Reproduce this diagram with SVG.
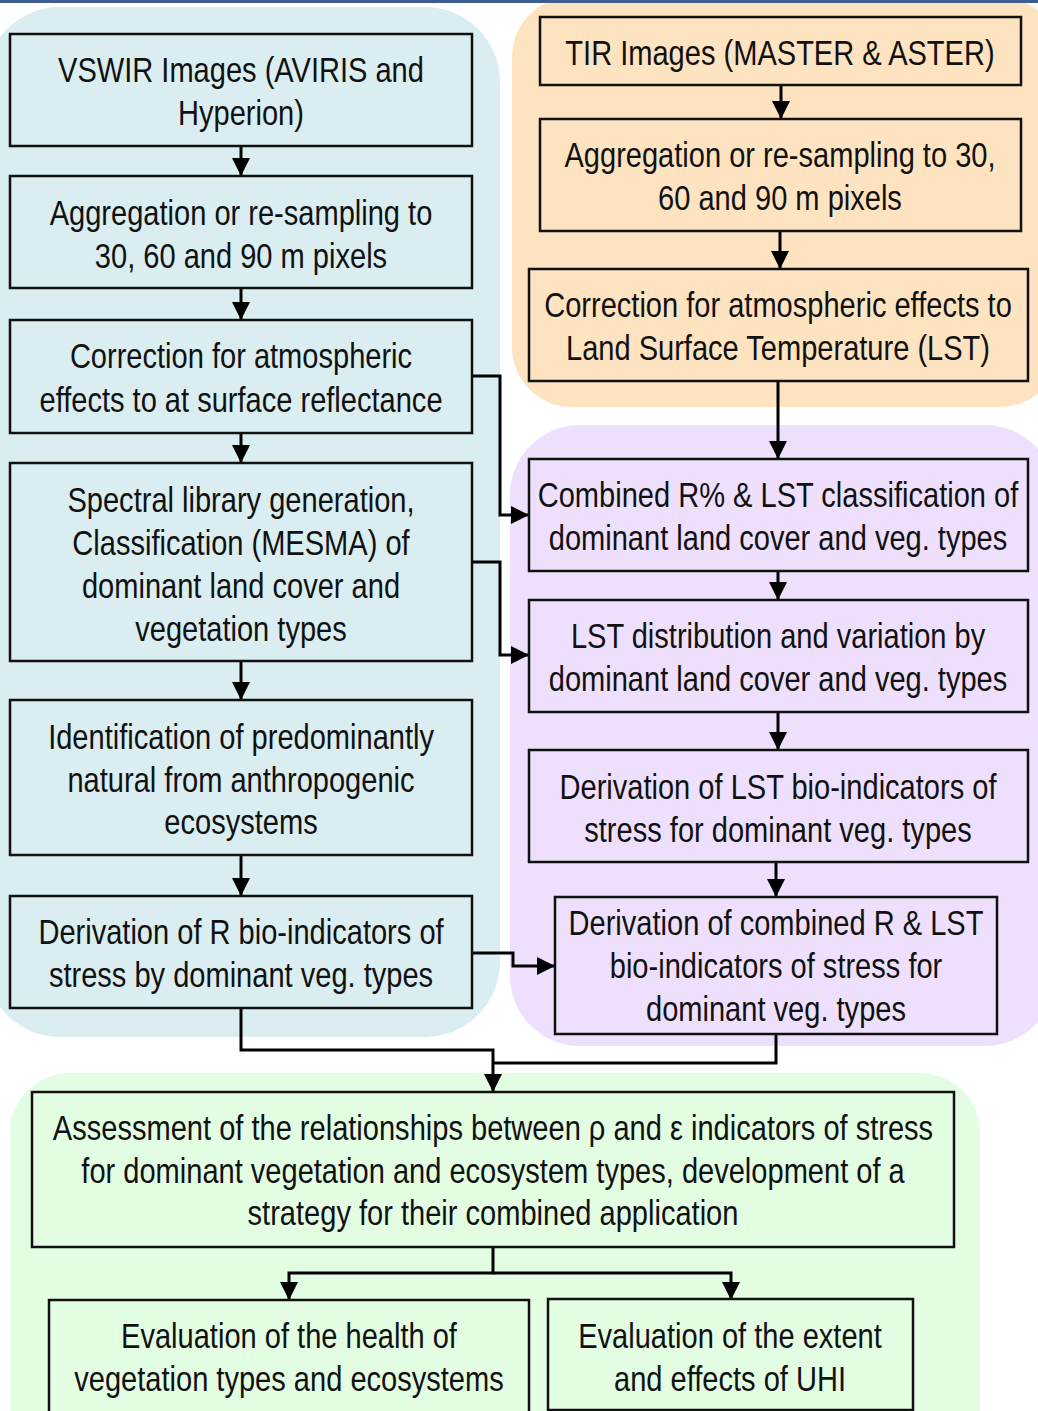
<svg xmlns="http://www.w3.org/2000/svg" width="1038" height="1411" viewBox="0 0 1038 1411">
<style>
text{font-family:"Liberation Sans",Arial,sans-serif;font-size:35px;fill:#111;text-anchor:middle;transform-box:fill-box;transform-origin:center;transform:scaleX(0.83)}
.box{stroke:#111;stroke-width:2.5}
.b{fill:#daedf0}.o{fill:#fee3c1}.p{fill:#eee0fc}.g{fill:#e3fde3}
.c{fill:none;stroke:#000;stroke-width:3}
</style>
<defs>
<marker id="ah" markerUnits="userSpaceOnUse" markerWidth="18" markerHeight="18" refX="18" refY="9" orient="auto">
<path d="M0,0 L18,9 L0,18 z" fill="#000"/>
</marker>
</defs>
<rect width="1038" height="1411" fill="#fff"/>
<g id="panels">
<rect class="b" x="-15" y="7" width="515" height="1030" rx="75"/>
<rect class="o" x="512" y="-3" width="548" height="410" rx="60"/>
<rect class="p" x="510" y="425" width="545" height="621" rx="70"/>
<rect class="g" x="10" y="1073" width="970" height="400" rx="60"/>
</g>
<rect x="0" y="0" width="1038" height="3" fill="#3d5d8c"/>
<g id="connectors">
<path class="c" d="M241,146 V176" marker-end="url(#ah)"/>
<path class="c" d="M241,288 V320" marker-end="url(#ah)"/>
<path class="c" d="M241,433 V463" marker-end="url(#ah)"/>
<path class="c" d="M241,661 V700" marker-end="url(#ah)"/>
<path class="c" d="M241,855 V896" marker-end="url(#ah)"/>
<path class="c" d="M781,85 V119" marker-end="url(#ah)"/>
<path class="c" d="M780,231 V269" marker-end="url(#ah)"/>
<path class="c" d="M778,381 V459" marker-end="url(#ah)"/>
<path class="c" d="M778,571 V600" marker-end="url(#ah)"/>
<path class="c" d="M778,712 V750" marker-end="url(#ah)"/>
<path class="c" d="M776,862 V897" marker-end="url(#ah)"/>
<path class="c" d="M472,376 H500 V515 H529" marker-end="url(#ah)"/>
<path class="c" d="M472,562 H500 V655 H529" marker-end="url(#ah)"/>
<path class="c" d="M472,953 H513 V966 H555" marker-end="url(#ah)"/>
<path class="c" d="M241,1008 V1050 H493 V1092" marker-end="url(#ah)"/>
<path class="c" d="M776,1034 V1063 H493"/>
<path class="c" d="M493,1247 V1273 H289 V1300" marker-end="url(#ah)"/>
<path class="c" d="M493,1273 H731 V1300" marker-end="url(#ah)"/>
</g>
<g id="vswir"><rect class="box b" x="10" y="34" width="462" height="112"/><text x="241" y="82">VSWIR Images (AVIRIS and</text><text x="241" y="125">Hyperion)</text></g>
<g id="agg-left"><rect class="box b" x="10" y="176" width="462" height="112"/><text x="241" y="225">Aggregation or re-sampling to</text><text x="241" y="268">30, 60 and 90 m pixels</text></g>
<g id="corr-left"><rect class="box b" x="10" y="320" width="462" height="113"/><text x="241" y="368">Correction for atmospheric</text><text x="241" y="412">effects to at surface reflectance</text></g>
<g id="spectral"><rect class="box b" x="10" y="463" width="462" height="198"/><text x="241" y="512">Spectral library generation,</text><text x="241" y="555">Classification (MESMA) of</text><text x="241" y="598">dominant land cover and</text><text x="241" y="641">vegetation types</text></g>
<g id="ident"><rect class="box b" x="10" y="700" width="462" height="155"/><text x="241" y="749">Identification of predominantly</text><text x="241" y="792">natural from anthropogenic</text><text x="241" y="834">ecosystems</text></g>
<g id="deriv-r"><rect class="box b" x="10" y="896" width="462" height="112"/><text x="241" y="944">Derivation of R bio-indicators of</text><text x="241" y="987">stress by dominant veg. types</text></g>
<g id="tir"><rect class="box o" x="540" y="17" width="481" height="68"/><text x="780" y="65">TIR Images (MASTER &amp; ASTER)</text></g>
<g id="agg-right"><rect class="box o" x="540" y="119" width="481" height="112"/><text x="780" y="167">Aggregation or re-sampling to 30,</text><text x="780" y="210">60 and 90 m pixels</text></g>
<g id="corr-right"><rect class="box o" x="529" y="269" width="499" height="112"/><text x="778" y="317">Correction for atmospheric effects to</text><text x="778" y="360">Land Surface Temperature (LST)</text></g>
<g id="combined"><rect class="box p" x="529" y="459" width="499" height="112"/><text x="778" y="507">Combined R% &amp; LST classification of</text><text x="778" y="550">dominant land cover and veg. types</text></g>
<g id="lst-dist"><rect class="box p" x="529" y="600" width="499" height="112"/><text x="778" y="648">LST distribution and variation by</text><text x="778" y="691">dominant land cover and veg. types</text></g>
<g id="deriv-lst"><rect class="box p" x="529" y="750" width="499" height="112"/><text x="778" y="799">Derivation of LST bio-indicators of</text><text x="778" y="842">stress for dominant veg. types</text></g>
<g id="deriv-comb"><rect class="box p" x="555" y="897" width="442" height="137"/><text x="776" y="935">Derivation of combined R &amp; LST</text><text x="776" y="978">bio-indicators of stress for</text><text x="776" y="1021">dominant veg. types</text></g>
<g id="assess"><rect class="box g" x="32" y="1092" width="922" height="155"/><text x="493" y="1140">Assessment of the relationships between ρ and ε indicators of stress</text><text x="493" y="1183">for dominant vegetation and ecosystem types, development of a</text><text x="493" y="1225">strategy for their combined application</text></g>
<g id="eval-health"><rect class="box g" x="49" y="1300" width="480" height="130"/><text x="289" y="1348">Evaluation of the health of</text><text x="289" y="1391">vegetation types and ecosystems</text></g>
<g id="eval-uhi"><rect class="box g" x="548" y="1299" width="365" height="111"/><text x="730" y="1348">Evaluation of the extent</text><text x="730" y="1391">and effects of UHI</text></g>
</svg>
